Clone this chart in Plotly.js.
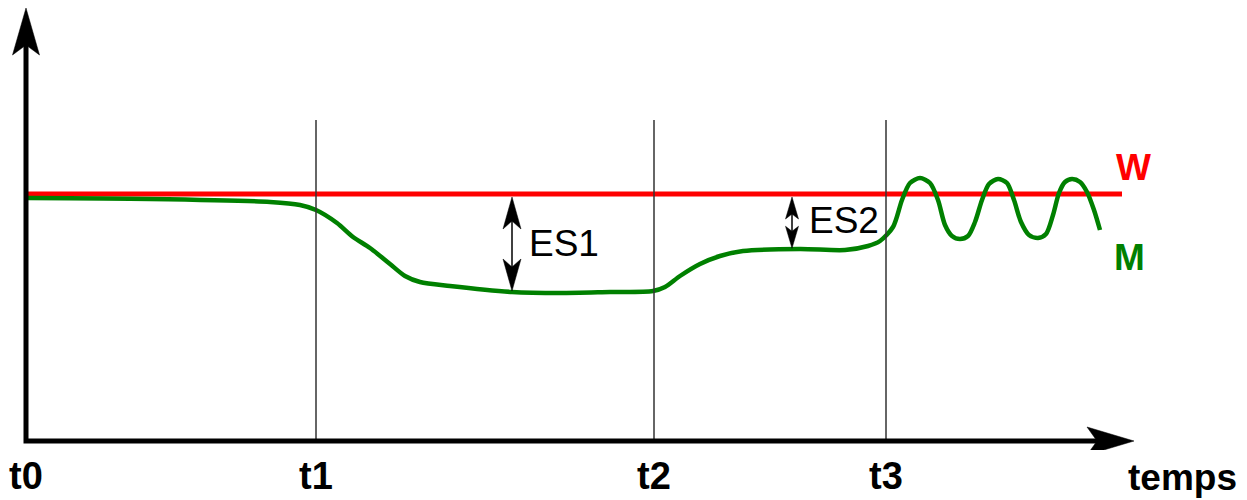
<!DOCTYPE html>
<html>
<head>
<meta charset="utf-8">
<script src="https://cdn.plot.ly/plotly-3.0.1.min.js"></script>
<style>
  html, body { margin: 0; padding: 0; background: #fff; }
  #chart { width: 1247px; height: 500px; }
</style>
</head>
<body>
<div id="chart"></div>
<script>
// Time marks on the horizontal axis
const tTicks = [0, 29.0, 62.8, 86.0];
const tLabels = ['t0', 't1', 't2', 't3'];

// Setpoint W (constant)
const wLevel = 24.7;
const wStart = 0.2;
const wEnd = 109.6;

// Measured value M over time
const mTime = [0.2, 12.4, 24.4, 27.4, 29.0, 31.1, 32.7, 34.4, 36.4, 37.9, 39.4, 42.4,
  48.6, 53.4, 58.4, 62.7, 63.9, 65.4, 67.4, 69.4, 71.7, 77.4, 81.9, 84.2, 85.4,
  86.7, 87.6, 88.4, 89.4, 90.4, 91.2, 91.9, 92.6, 93.4, 94.2, 94.9, 95.6, 96.3, 97.2,
  98.1, 98.8, 99.5, 100.3, 101.2, 102.0, 102.7, 103.3, 103.9, 104.6, 105.4, 106.1,
  106.8, 107.4];
const mValue = [24.3, 24.2, 23.9, 23.6, 23.1, 21.8, 20.4, 19.3, 17.7, 16.5, 15.9, 15.5,
  14.9, 14.8, 14.9, 15.0, 15.4, 16.5, 17.7, 18.5, 19.0, 19.2, 19.1, 19.5, 20.0,
  21.4, 24.1, 25.8, 26.3, 25.8, 24.1, 21.6, 20.5, 20.2, 20.5, 21.9, 24.1, 25.7, 26.2,
  25.8, 24.1, 21.9, 20.6, 20.3, 20.7, 22.6, 24.8, 25.9, 26.2, 25.9, 24.9,
  23.1, 21.1];

// Control deviations marked between W and M
const esTimes = [48.6, 76.6];
const esLabels = ['ES1', 'ES2'];

// Axis extents (data units)
const xTip = 110.8;
const yTip = 43.3;
const markTop = 32.1;

const FONT = 'Liberation Sans, Arial, sans-serif';

function valueAt(xs, ys, x) {
  for (let i = 1; i < xs.length; i++) {
    if (x <= xs[i]) {
      const f = (x - xs[i - 1]) / (xs[i] - xs[i - 1]);
      return ys[i - 1] + f * (ys[i] - ys[i - 1]);
    }
  }
  return ys[ys.length - 1];
}

// Notched arrowhead as an SVG path in data units (both axes share one scale)
function arrowHead(tx, ty, dx, dy, len, half, notch) {
  const bx = tx - dx * len, by = ty - dy * len;
  const px = -dy, py = dx;
  const nx = tx - dx * (len - notch), ny = ty - dy * (len - notch);
  return `M${tx},${ty} L${bx + px * half},${by + py * half} L${nx},${ny} L${bx - px * half},${by - py * half} Z`;
}

const shapes = [];
const annotations = [];

// Vertical marks at t1, t2, t3
tTicks.slice(1).forEach(t => {
  shapes.push({ type: 'line', xref: 'x', yref: 'y', x0: t, x1: t, y0: 0, y1: markTop,
    line: { color: '#333333', width: 1.5 }, layer: 'above' });
});

// Axes with arrowheads
const headLen = 4.7, headNotch = 1.0;
shapes.push({ type: 'path', xref: 'x', yref: 'y', layer: 'above',
  path: `M0,${yTip - headLen + headNotch} L0,0 L${xTip - headLen + headNotch},0`,
  line: { color: '#000', width: 5 } });
shapes.push({ type: 'path', xref: 'x', yref: 'y', layer: 'above',
  path: arrowHead(0, yTip, 0, 1, headLen, 1.35, headNotch),
  fillcolor: '#000', line: { color: '#000', width: 0.5 } });
shapes.push({ type: 'path', xref: 'x', yref: 'y', layer: 'above',
  path: arrowHead(xTip, 0, 1, 0, headLen, 1.4, headNotch),
  fillcolor: '#000', line: { color: '#000', width: 0.5 } });

// Double arrows showing each deviation between W and M
const esHead = [[3.2, 0.9, 0.8], [2.2, 0.65, 0.5]];
esTimes.forEach((t, i) => {
  const top = wLevel - 0.3;
  const bottom = valueAt(mTime, mValue, t) + 0.1;
  const [len, half, notch] = esHead[i];
  shapes.push({ type: 'line', xref: 'x', yref: 'y', x0: t, x1: t,
    y0: bottom + len - notch, y1: top - len + notch,
    line: { color: '#000', width: 1.5 }, layer: 'above' });
  shapes.push({ type: 'path', xref: 'x', yref: 'y', layer: 'above',
    path: arrowHead(t, top, 0, 1, len, half, notch),
    fillcolor: '#000', line: { color: '#000', width: 0.5 } });
  shapes.push({ type: 'path', xref: 'x', yref: 'y', layer: 'above',
    path: arrowHead(t, bottom, 0, -1, len, half, notch),
    fillcolor: '#000', line: { color: '#000', width: 0.5 } });
  annotations.push({ x: t + 1.5, y: (top + bottom) / 2 + (i === 0 ? 0.1 : 0.2),
    xref: 'x', yref: 'y', xanchor: 'left', yanchor: 'middle', showarrow: false,
    text: esLabels[i], font: { family: FONT, size: 37, color: '#000' } });
});

// Series names
annotations.push({ x: 110.7, y: 27.4, xref: 'x', yref: 'y', showarrow: false,
  xanchor: 'center', yanchor: 'middle', text: 'W',
  font: { family: FONT, size: 37, color: '#ff0000', weight: 700 } });
annotations.push({ x: 110.3, y: 18.4, xref: 'x', yref: 'y', showarrow: false,
  xanchor: 'center', yanchor: 'middle', text: 'M',
  font: { family: FONT, size: 37, color: '#008000', weight: 700 } });

// Time axis name
annotations.push({ x: 115.6, y: -0.062, xref: 'x', yref: 'paper', showarrow: false,
  xanchor: 'center', yanchor: 'middle', text: 'temps',
  font: { family: FONT, size: 37, color: '#000', weight: 700 } });

const traces = [
  { x: [wStart, wEnd], y: [wLevel, wLevel], mode: 'lines', name: 'W',
    line: { color: '#ff0000', width: 5 }, hoverinfo: 'skip' },
  { x: mTime, y: mValue, mode: 'lines', name: 'M',
    line: { color: '#008000', width: 4.5, shape: 'spline', smoothing: 0.8 }, hoverinfo: 'skip' }
];

// 10 px per data unit on both axes; origin sits at (26, 441) px
const layout = {
  width: 1247, height: 500,
  margin: { l: 0, r: 60, t: 0, b: 50 },
  paper_bgcolor: '#fff', plot_bgcolor: '#fff',
  showlegend: false,
  xaxis: { range: [-2.6, 116.1], showgrid: false, zeroline: false, showline: false,
    tickmode: 'array', tickvals: tTicks, ticktext: tLabels, ticks: '',
    tickfont: { family: FONT, size: 38, color: '#000', weight: 700 } },
  yaxis: { range: [-0.9, 44.1], showgrid: false, zeroline: false, showline: false,
    showticklabels: false, ticks: '' },
  shapes: shapes,
  annotations: annotations
};

Plotly.newPlot('chart', traces, layout, { displayModeBar: false, staticPlot: true });
</script>
</body>
</html>
